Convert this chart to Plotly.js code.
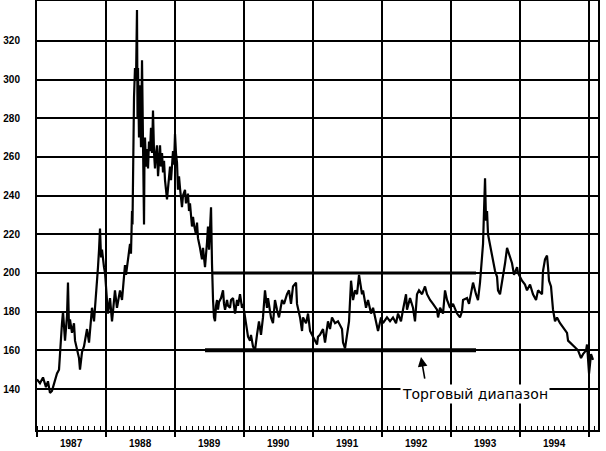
<!DOCTYPE html>
<html>
<head>
<meta charset="utf-8">
<script src="https://cdn.plot.ly/plotly-3.0.1.min.js"></script>
<style>html,body{margin:0;padding:0;background:#fff;}#chart{width:606px;height:451px;}</style>
</head>
<body>
<div id="chart"></div>
<script>
// Decimal year of each observation
const years = [
1987.000,1987.043,1987.087,1987.130,1987.159,1987.188,1987.217,1987.246,1987.290,1987.319,
1987.333,1987.362,1987.377,1987.391,1987.406,1987.435,1987.449,1987.464,1987.478,1987.507,
1987.536,1987.551,1987.580,1987.609,1987.623,1987.652,1987.681,1987.696,1987.725,1987.754,
1987.783,1987.797,1987.826,1987.855,1987.884,1987.899,1987.913,1987.928,1987.942,1987.971,
1987.986,1988.014,1988.029,1988.058,1988.087,1988.101,1988.130,1988.159,1988.188,1988.203,
1988.232,1988.261,1988.275,1988.290,1988.319,1988.348,1988.362,1988.377,1988.384,1988.391,
1988.399,1988.406,1988.420,1988.435,1988.449,1988.457,1988.464,1988.478,1988.493,1988.507,
1988.522,1988.536,1988.543,1988.551,1988.558,1988.565,1988.580,1988.594,1988.609,1988.623,
1988.638,1988.652,1988.667,1988.681,1988.696,1988.710,1988.725,1988.739,1988.754,1988.768,
1988.783,1988.797,1988.812,1988.826,1988.841,1988.855,1988.884,1988.899,1988.928,1988.942,
1988.971,1988.986,1989.000,1989.014,1989.029,1989.043,1989.058,1989.072,1989.101,1989.116,
1989.145,1989.159,1989.174,1989.188,1989.203,1989.217,1989.246,1989.261,1989.275,1989.304,
1989.319,1989.333,1989.362,1989.391,1989.406,1989.435,1989.464,1989.478,1989.493,1989.507,
1989.522,1989.536,1989.543,1989.551,1989.565,1989.580,1989.594,1989.609,1989.623,1989.638,
1989.667,1989.696,1989.710,1989.725,1989.754,1989.768,1989.797,1989.812,1989.841,1989.870,
1989.899,1989.913,1989.942,1989.971,1989.986,1990.014,1990.043,1990.058,1990.087,1990.101,
1990.130,1990.159,1990.188,1990.217,1990.246,1990.275,1990.304,1990.319,1990.333,1990.348,
1990.377,1990.391,1990.420,1990.449,1990.478,1990.507,1990.551,1990.580,1990.623,1990.652,
1990.681,1990.710,1990.754,1990.768,1990.812,1990.841,1990.855,1990.899,1990.928,1990.957,
1991.000,1991.043,1991.058,1991.072,1991.101,1991.145,1991.174,1991.217,1991.246,1991.275,
1991.319,1991.362,1991.420,1991.435,1991.464,1991.493,1991.522,1991.551,1991.580,1991.609,
1991.638,1991.667,1991.710,1991.725,1991.768,1991.797,1991.841,1991.870,1991.913,1991.942,
1991.986,1992.014,1992.072,1992.116,1992.159,1992.203,1992.232,1992.275,1992.304,1992.348,
1992.362,1992.406,1992.449,1992.478,1992.507,1992.536,1992.580,1992.623,1992.652,1992.696,
1992.739,1992.797,1992.812,1992.841,1992.884,1992.913,1992.942,1992.986,1993.029,1993.087,
1993.130,1993.159,1993.174,1993.232,1993.261,1993.304,1993.319,1993.362,1993.391,1993.420,
1993.449,1993.464,1993.478,1993.493,1993.507,1993.522,1993.536,1993.565,1993.594,1993.609,
1993.638,1993.667,1993.681,1993.710,1993.739,1993.754,1993.783,1993.812,1993.841,1993.884,
1993.913,1993.957,1993.971,1994.000,1994.029,1994.072,1994.101,1994.145,1994.188,1994.232,
1994.261,1994.319,1994.333,1994.362,1994.391,1994.406,1994.420,1994.449,1994.478,1994.507,
1994.536,1994.580,1994.623,1994.681,1994.696,1994.754,1994.797,1994.841,1994.884,1994.913,
1994.957,1994.971,1995.000,1995.014,1995.029,1995.058
];
// Price (cents)
const prices = [
145,143,146,141,144,138,139,143,148,150,
160,174,180,172,165,178,195,171,176,169,
174,165,160,156,150,159,162,165,171,164,
175,182,175,187,203,212,223,208,212,203,
200,186,179,187,175,180,191,182,188,191,
186,196,204,199,207,215,210,232,225,248,
263,291,306,300,336,280,306,270,297,265,
310,268,254,225,262,270,255,264,254,268,
263,275,262,284,262,254,262,266,250,257,
266,255,262,252,258,248,238,244,255,248,
263,256,272,262,257,243,250,244,234,240,
243,236,240,241,232,236,224,229,225,220,
226,218,213,207,213,203,216,224,212,222,
234,205,189,186,177,175,183,186,181,185,
187,191,184,181,186,183,182,186,187,179,
186,183,189,182,184,177,170,167,165,168,
162,160,168,175,168,177,191,186,182,187,
180,177,174,186,181,177,186,184,189,191,
184,193,195,184,177,170,177,174,179,170,
167,164,163,167,168,171,164,175,171,177,
174,175,171,164,161,168,175,196,186,191,
189,199,189,191,182,186,179,182,174,170,
177,174,177,175,177,174,179,175,181,189,
181,187,182,175,189,191,189,193,189,186,
184,181,177,182,179,191,186,182,184,179,
177,180,186,187,184,193,195,189,186,195,
207,215,232,249,227,232,220,215,210,207,
201,198,191,189,195,198,205,213,210,205,
199,203,200,198,196,194,191,194,189,186,
191,189,201,207,209,203,196,193,181,175,
177,174,172,169,165,163,162,160,156,158,
160,163,148,155,158,155
];
// Axis labels
const yTicks = [140,160,180,200,220,240,260,280,300,320];
const yearLabels = ['1987','1988','1989','1990','1991','1992','1993','1994'];
const yearCentres = [1987.5,1988.5,1989.5,1990.5,1991.5,1992.5,1993.5,1994.5];
// Trading range
const rangeTop = 200, rangeBottom = 160;
const rangeStart = [1989.551, 1989.435]; // top line, bottom line
const rangeEnd = 1993.362;
const rangeLabel = 'Торговый диапазон';

const trace = {
  x: years, y: prices, type: 'scatter', mode: 'lines',
  line: {color: '#000', width: 2.2}, hoverinfo: 'skip'
};

const annotations = yearLabels.map((t, i) => ({
  x: yearCentres[i], xref: 'x', y: 0, yref: 'paper', yanchor: 'top', yshift: -6,
  text: t, showarrow: false,
  font: {family: 'Arial, Liberation Sans, sans-serif', size: 10, color: '#000', weight: 'bold'}
}));
annotations.push({
  x: 1993.348, xref: 'x', y: 137.2, yref: 'y', text: rangeLabel, showarrow: false,
  bgcolor: '#fff', borderpad: 1,
  font: {family: 'DejaVu Sans, sans-serif', size: 14, color: '#000'}
});
annotations.push({
  x: 1992.565, xref: 'x', y: 156.5, yref: 'y', text: '', showarrow: true,
  ax: 4, ay: 23, arrowhead: 2, arrowsize: 1.2, arrowwidth: 1.6, arrowcolor: '#000'
});

const layout = {
  width: 606, height: 451,
  margin: {l: 37, r: 8, t: 1, b: 21},
  paper_bgcolor: '#fff', plot_bgcolor: '#fff',
  showlegend: false,
  xaxis: {
    range: [1987, 1995.13], tick0: 1987, dtick: 1,
    showgrid: true, gridcolor: '#000', gridwidth: 2,
    showticklabels: false, ticks: 'outside', ticklen: 5, tickwidth: 2, tickcolor: '#000',
    minor: {tick0: 1987, dtick: 1/12, ticks: 'inside', ticklen: 4, tickwidth: 1, tickcolor: '#000', showgrid: false},
    showline: true, linecolor: '#000', linewidth: 2, mirror: true, zeroline: false
  },
  yaxis: {
    range: [118.8, 340.6], tickvals: yTicks,
    showgrid: true, gridcolor: '#000', gridwidth: 2,
    ticks: '', ticklabelstandoff: 13,
    tickfont: {family: 'Arial, Liberation Sans, sans-serif', size: 10, color: '#000', weight: 'bold'},
    showline: true, linecolor: '#000', linewidth: 2, mirror: true, zeroline: false
  },
  shapes: [
    {type: 'line', xref: 'x', yref: 'y', x0: rangeStart[0], x1: rangeEnd, y0: rangeTop, y1: rangeTop,
     line: {color: '#000', width: 3}},
    {type: 'line', xref: 'x', yref: 'y', x0: rangeStart[1], x1: rangeEnd, y0: rangeBottom, y1: rangeBottom,
     line: {color: '#000', width: 4}}
  ],
  annotations: annotations
};

Plotly.newPlot('chart', [trace], layout, {displayModeBar: false, staticPlot: true});
</script>
</body>
</html>
